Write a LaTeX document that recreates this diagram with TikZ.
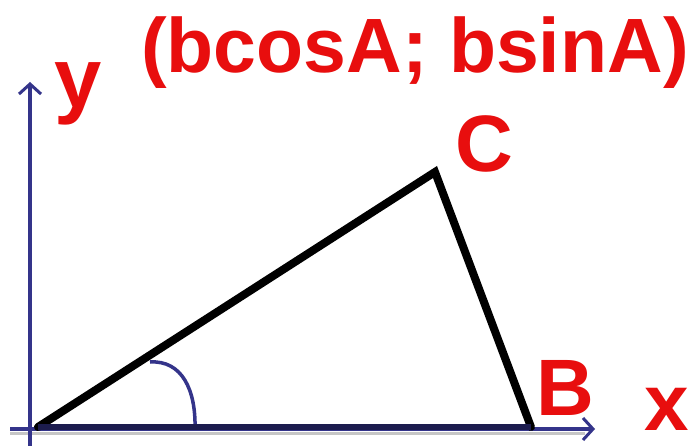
\documentclass[tikz,border=0pt]{standalone}
\usepackage{fontspec}
\setmainfont{Liberation Sans}
\usetikzlibrary{arrows.meta}
\definecolor{lred}{HTML}{E80E0E}
\definecolor{axisblue}{HTML}{34348A}
\definecolor{basenavy}{HTML}{1C1C4E}
\tikzset{
  lbl/.style={text=lred, font=\bfseries\fontsize{80}{80}\selectfont, anchor=base west, inner sep=0pt},
  axis/.style={draw=axisblue, line width=4pt, -{Straight Barb[length=10pt,width=22pt,line width=3pt]}},
  side/.style={draw=black, line width=8pt, line cap=round, line join=miter},
}
\begin{document}
\begin{tikzpicture}[x=1pt,y=-1pt]
\useasboundingbox (0,0) rectangle (692,446);
\fill[white] (0,0) rectangle (692,446);
% coordinates
\coordinate (yb) at (30,446);
\coordinate (yt) at (30,82);
\coordinate (xl) at (10,429);
\coordinate (xr) at (595,429);
\coordinate (A) at (38,427);
\coordinate (B) at (531,427);
\coordinate (C) at (435,172);
\coordinate (arcS) at (150,362);
\coordinate (arcE) at (195,429);
% shadow of x-axis
\draw[gray!45, line width=3pt] (10,433) -- (585,433);
% axes
\draw[axis] (yb) -- (yt);
\draw[axis] (xl) -- (xr);
% angle arc
\draw[axisblue, line width=3.5pt] (arcS) .. controls (182,360) and (196,390) .. (arcE);
% triangle
\draw[side] (A) -- (C) -- (B);
\draw[basenavy, line width=6pt] (A) -- (B);
% labels
\node[lbl, font=\bfseries\fontsize{77}{77}\selectfont] (title) at (141,73) {(bcosA; bsinA)};
\node[lbl, font=\bfseries\fontsize{85}{85}\selectfont] (ylab) at (54,108) {y};
\node[lbl] (Clab) at (455,172) {C};
\node[lbl] (Blab) at (536,415) {B};
\node[lbl, font=\bfseries\fontsize{80}{80}\selectfont] (xlab) at (644,430) {x};
\end{tikzpicture}
\end{document}
